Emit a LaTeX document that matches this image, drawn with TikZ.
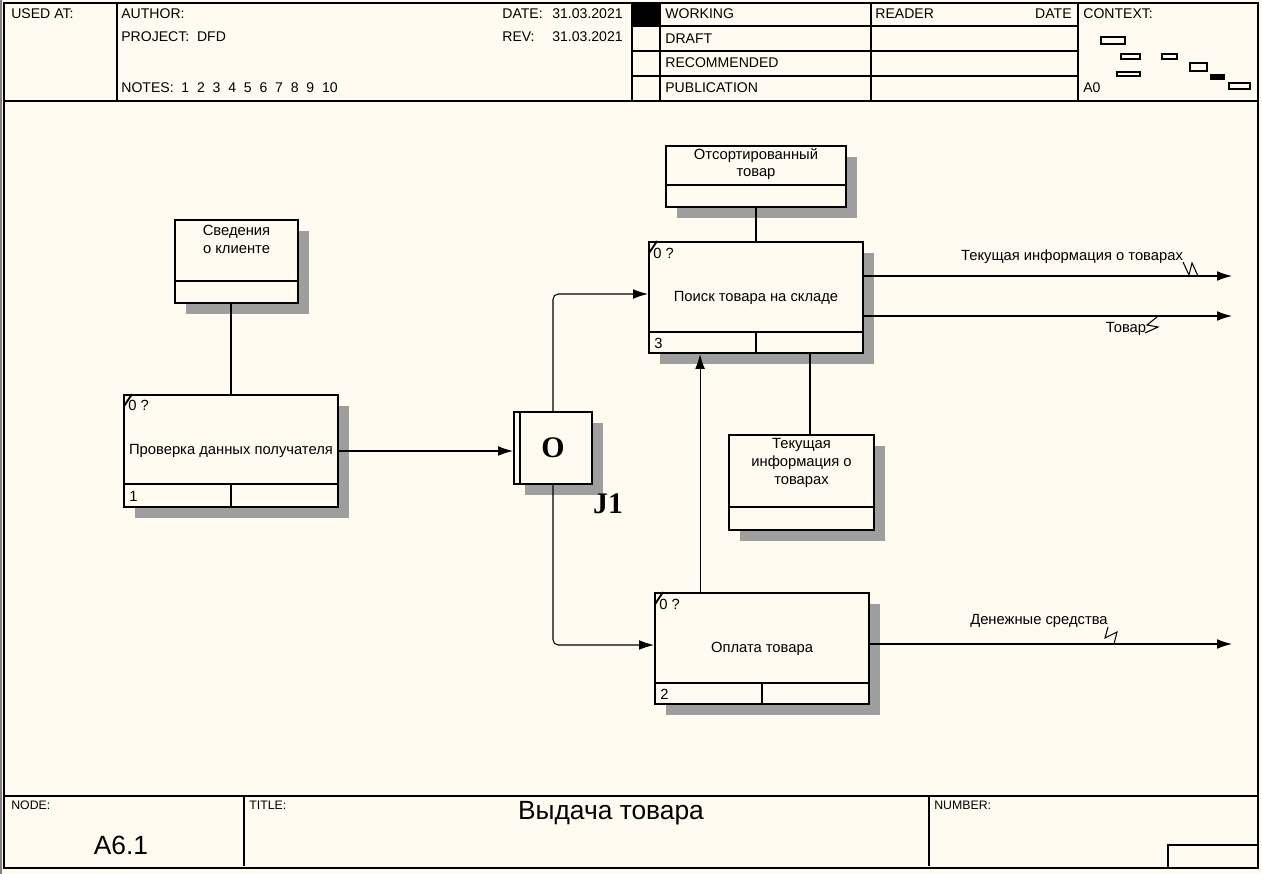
\documentclass[tikz,border=0pt]{standalone}
\usepackage{fontspec}
\setmainfont{Liberation Sans}
\newfontfamily\jfont{Liberation Serif}
\usetikzlibrary{arrows.meta,calc,shadows,positioning}
\definecolor{paper}{HTML}{FFFBF0}

\tikzset{
  frame/.style={line width=0.9pt},
  hdr/.style={anchor=west, inner sep=0pt, font=\fontsize{8}{9}\selectfont},
  foot/.style={anchor=west, inner sep=0pt, font=\fontsize{7}{8}\selectfont},
  box/.style={draw, line width=1.1pt, fill=paper, inner sep=0pt,
    general shadow={fill=black!38, shadow xshift=0.22cm, shadow yshift=-0.22cm}},
  boxtxt/.style={inner sep=0pt, font=\fontsize{8.4}{10.2}\selectfont, align=center},
  small/.style={anchor=west, inner sep=0pt, font=\fontsize{8.4}{9}\selectfont},
  link/.style={line width=0.6pt},
  flow/.style={line width=0.6pt, -{Latex[length=8.5pt,width=5.5pt]}},
}

\begin{document}
\begin{tikzpicture}[x=0.02cm, y=-0.02cm]
    \fill[paper] (0,0) rectangle (1262,874);
    \useasboundingbox (0,0) rectangle (1262,874);
    \draw[gray, line width=0.6pt] (1,0) -- (1,874);

    % frame and header
    \draw[frame] (4,3) rectangle (1258,868);
    \draw[frame] (4,101) -- (1258,101);
    \draw[frame] (117,3) -- (117,101);
    \draw[frame] (632,3) -- (632,101);
    \draw[frame] (660,3) -- (660,101);
    \draw[frame] (871,3) -- (871,101);
    \draw[frame] (1078,3) -- (1078,101);
    \foreach \y in {26,51,76}
        \draw[frame] (632,\y) -- (1078,\y);
    \fill (632,3) rectangle (660,26);

    \node[hdr] (usedat) at (11,14) {USED AT:};
    \node[hdr] (author) at (121,14) {AUTHOR:};
    \node[hdr] (project) at (121,37) {PROJECT:\ \ DFD};
    \node[hdr] (notes) at (121,88) {NOTES:\ \ 1\ \ 2\ \ 3\ \ 4\ \ 5\ \ 6\ \ 7\ \ 8\ \ 9\ \ 10};
    \node[hdr] (date) at (502,14) {DATE:};
    \node[hdr] (datev) at (552,14) {31.03.2021};
    \node[hdr] (rev) at (502,37) {REV:};
    \node[hdr] (revv) at (552,37) {31.03.2021};
    \node[hdr] (working) at (665,14) {WORKING};
    \node[hdr] (draft) at (665,39) {DRAFT};
    \node[hdr] (recomm) at (665,63) {RECOMMENDED};
    \node[hdr] (public) at (665,88) {PUBLICATION};
    \node[hdr] (reader) at (875,14) {READER};
    \node[hdr, anchor=east] (rdate) at (1072,14) {DATE};
    \node[hdr] (context) at (1083,14) {CONTEXT:};
    \node[hdr] (azero) at (1083,88) {A0};

    % context sketch
    \draw[link] (1101,37) rectangle (1125,44);
    \draw[link] (1121,54) rectangle (1140,59);
    \draw[link] (1162,54) rectangle (1177,59);
    \draw[link] (1190,63) rectangle (1207,71);
    \draw[link] (1117,72) rectangle (1140,76);
    \fill (1210,74) rectangle (1225,80);
    \draw[link] (1229,83) rectangle (1250,89);

    % footer
    \draw[frame] (4,796) -- (1258,796);
    \draw[frame] (244,796) -- (244,866);
    \draw[frame] (929,796) -- (929,866);
    \draw[frame] (1168,845) rectangle (1258,868);
    \node[foot] (nodelbl) at (11,805) {NODE:};
    \node[foot] (titlelbl) at (249,805) {TITLE:};
    \node[foot] (numlbl) at (934,805) {NUMBER:};
    \node[inner sep=0pt, font=\fontsize{15}{17}\selectfont] (nodeno) at (121,845) {A6.1};
    \node[inner sep=0pt, font=\fontsize{15}{17}\selectfont] (title) at (611,813) {Выдача товара};

    % stores
    \node[box, minimum width=2.46cm, minimum height=1.66cm] (sved) at (236.5,261.5) {};
    \node[boxtxt] (tsved) at ($(sved.north)+(0,20)$) {Сведения\\о клиенте};
    \draw[line width=1.1pt] ($(sved.south west)+(0,-23)$) -- ($(sved.south east)+(0,-23)$);

    \node[box, minimum width=3.6cm, minimum height=1.22cm] (otsort) at (756,176.5) {};
    \node[boxtxt] (totsort) at ($(otsort.north)+(0,19)$) {Отсортированный\\товар};
    \draw[line width=1.1pt] ($(otsort.south west)+(0,-23)$) -- ($(otsort.south east)+(0,-23)$);

    \node[box, minimum width=2.9cm, minimum height=1.9cm] (tek) at (801.5,482.5) {};
    \node[boxtxt] (ttek) at ($(tek.north)+(0,29)$) {Текущая\\информация о\\товарах};
    \draw[line width=1.1pt] ($(tek.south west)+(0,-24)$) -- ($(tek.south east)+(0,-24)$);

    % processes
    \node[box, boxtxt, minimum width=4.28cm, minimum height=2.24cm] (prov) at (231,451) {Проверка данных получателя};
    \draw[line width=1.1pt] ($(prov.south west)+(0,-24)$) -- ($(prov.south east)+(0,-24)$);
    \draw[line width=1.1pt] (prov.south) -- +(0,-24);
    \draw[line width=1.1pt] ($(prov.north west)+(1,12)$) -- ($(prov.north west)+(9,0)$);
    \node[small] (qprov) at ($(prov.north west)+(5,11)$) {0 ?};
    \node[small] (nprov) at ($(prov.south west)+(6,-12)$) {1};

    \node[box, boxtxt, minimum width=4.28cm, minimum height=2.22cm] (poisk) at (756,297.5) {Поиск товара на складе};
    \draw[line width=1.1pt] ($(poisk.south west)+(0,-22)$) -- ($(poisk.south east)+(0,-22)$);
    \draw[line width=1.1pt] (poisk.south) -- +(0,-22);
    \draw[line width=1.1pt] ($(poisk.north west)+(1,12)$) -- ($(poisk.north west)+(9,0)$);
    \node[small] (qpoisk) at ($(poisk.north west)+(5,12)$) {0 ?};
    \node[small] (npoisk) at ($(poisk.south west)+(6,-11)$) {3};

    \node[box, boxtxt, minimum width=4.28cm, minimum height=2.22cm] (opl) at (762,648.5) {Оплата товара};
    \draw[line width=1.1pt] ($(opl.south west)+(0,-22)$) -- ($(opl.south east)+(0,-22)$);
    \draw[line width=1.1pt] (opl.south) -- +(0,-22);
    \draw[line width=1.1pt] ($(opl.north west)+(1,12)$) -- ($(opl.north west)+(9,0)$);
    \node[small] (qopl) at ($(opl.north west)+(5,12)$) {0 ?};
    \node[small] (nopl) at ($(opl.south west)+(6,-11)$) {2};

    % junction
    \node[box, minimum width=1.56cm, minimum height=1.44cm,
          font=\jfont\bfseries\fontsize{17}{17}\selectfont] (jn) at (553,448) {O};
    \draw[line width=1.1pt] ($(jn.north west)+(7,0)$) -- ($(jn.south west)+(7,0)$);
    \node[inner sep=0pt, font=\jfont\bfseries\fontsize{17}{17}\selectfont] (jlbl) at (608,504) {J1};

    % connectors
    \draw[link] (prov.north |- sved.south) -- (prov.north);
    \draw[link] (otsort.south) -- (otsort.south |- poisk.north);
    \coordinate (dn) at ($(poisk.south)!0.5!(poisk.south east)$);
    \draw[link] (dn) -- (dn |- tek.north);
    \draw[flow] (prov.east) -- (prov.east -| jn.west);
    \draw[flow, rounded corners=3pt] (jn.north) |- ([yshift=0.07cm]poisk.west);
    \draw[flow, rounded corners=3pt] (jn.south) |- ([yshift=0.07cm]opl.west);
    \coordinate (up) at ($(opl.north west)+(46,0)$);
    \draw[flow] (up) -- (up |- poisk.south);

    \coordinate (inf) at (1232,276);
    \coordinate (tov) at (1232,316);
    \coordinate (money) at (1232,644);
    \draw[flow] (poisk.east |- inf) -- (inf);
    \draw[flow] (poisk.east |- tov) -- (tov);
    \draw[flow] (opl.east |- money) -- (money);

    \node[boxtxt] (linf) at (1072,257) {Текущая информация о товарах};
    \draw[link] (1183,262) -- (1189,275) -- (1192,263) -- (1198,276);
    \node[boxtxt] (ltov) at (1126,329) {Товар};
    \draw[link] (1145,333) -- (1158,327) -- (1147,325) -- (1157,317);
    \node[boxtxt] (lmoney) at (1039,621) {Денежные средства};
    \draw[link] (1108,627) -- (1105,638) -- (1117,632) -- (1114,644);
\end{tikzpicture}
\end{document}
